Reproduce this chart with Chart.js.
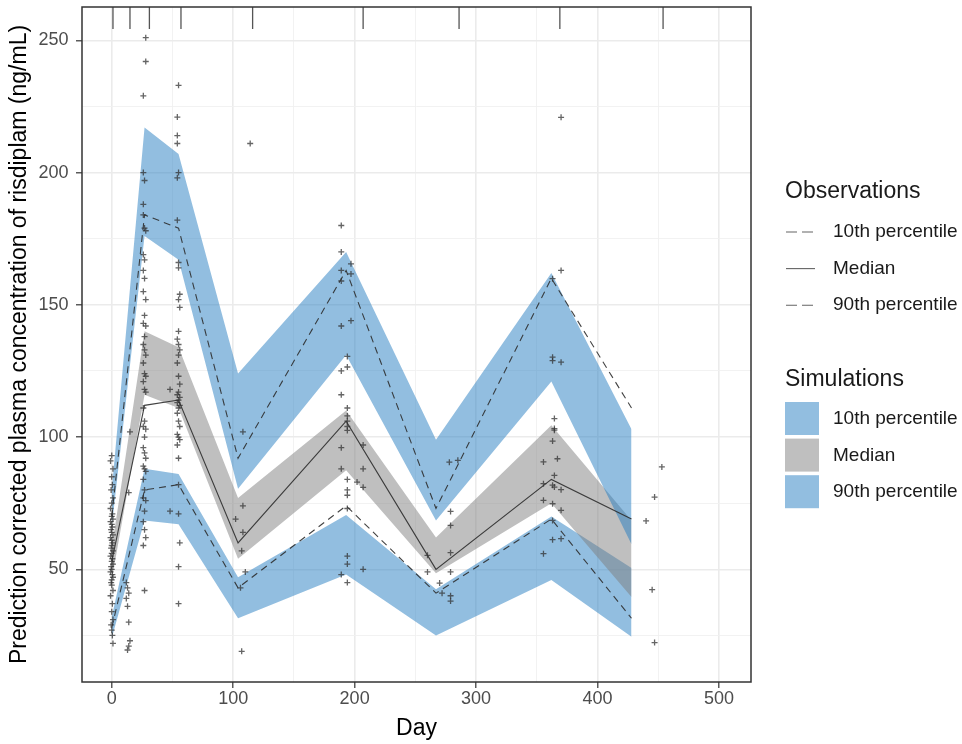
<!DOCTYPE html>
<html>
<head>
<meta charset="utf-8">
<title>Prediction corrected VPC - risdiplam</title>
<style>
    body {
        margin: 0;
        background-color: #ffffff;
    }

    #wrap {
        position: relative;
        width: 962px;
        height: 744px;
    }
</style>
</head>
<body>
<div id="wrap">
    <canvas id="vpc" width="962" height="744"></canvas>
</div>
<script src="https://cdn.jsdelivr.net/npm/chart.js"></script>
<script>
    // simulated prediction intervals (bands), by nominal day
    const simDays = [0, 27, 55, 104, 193, 267, 362, 428];
    const sim10Lo = [24, 68.5, 67, 31.5, 48, 25, 46, 24.5];
    const sim10Hi = [32, 88, 86, 47, 70.5, 42.5, 70, 50.5];
    const simMedLo = [46, 116, 111, 54, 87.5, 48.5, 75, 39.5];
    const simMedHi = [58, 140, 134, 77, 110, 62, 104.5, 68.5];
    const sim90Lo = [66, 176, 167, 80.5, 131, 68.5, 121, 59.5];
    const sim90Hi = [80, 217, 207, 124, 170, 99, 162, 103];

    // observed percentiles
    const obsLineDays = [0, 27, 55, 104, 193, 267, 362, 428];
    const obs10 = [28, 80, 82, 43, 74, 41, 69, 31.5];
    const obsMed = [53, 112, 114, 60, 106, 50, 84, 69];
    const obs90 = [70, 184, 179, 92, 163, 73, 160, 111];

    // rug marks on top of the panel
    const rugDays = [1, 15, 31, 57, 116, 207, 286, 369, 454];

    // grid / tick positions
    const xGridVals = [0, 50, 100, 150, 200, 250, 300, 350, 400, 450, 500];
    const yGridVals = [25, 50, 75, 100, 125, 150, 175, 200, 225, 250];

    // observed concentrations (day, conc), grouped by visit
    const dayV1 = [0, -1, 1, 0, 0.5, -0.5, 1, 0, -1, 0.5, 0, 1, -1, 0, 0.5, -0.5, 0, 1, -1, 0, 0.5, 0, -0.5, 1, 0, -1, 0.5, 0, 1, -0.5, 0, -1, 0.5, 1, 0, -0.5, 0, 1, -1, 0.5, 0, 1, -0.5, 0, 0.5, 1];
    const concV1 = [93, 91, 88, 85, 82, 80, 77, 75, 73, 71, 70, 69, 68, 67, 66, 65, 64, 63, 62, 61, 60, 59, 58, 57, 56, 55, 54, 53, 52, 51, 50, 49, 48, 47, 46, 45, 44, 42, 40, 37, 34, 31, 29, 27, 25, 22];
    const dayV2 = [15, 14, 12, 13, 14, 12, 13, 14, 15, 14, 13];
    const concV2 = [102, 79, 45, 43, 41, 39, 36, 30, 23, 21, 19.5];
    const dayV3 = [28, 28, 26, 26, 27, 26, 26, 27, 28, 26, 27, 26, 27, 26, 28, 27, 26, 28, 27, 26, 27, 28, 26, 27, 28, 26, 27, 28, 26, 27, 26, 28, 27, 26, 27, 28, 26, 27, 28, 26, 27, 26, 28, 27, 26, 27, 28, 26, 27];
    const concV3 = [251, 242, 229, 200, 197, 188, 184, 179, 178, 169, 167, 163, 160, 155, 152, 146, 143, 142, 138, 135, 133, 131, 128, 124, 123, 121, 118, 117, 111, 106, 104, 103, 100, 96, 94, 92, 89, 88, 87, 84, 80, 77, 76, 72, 68, 65, 62, 59, 42];
    const dayV4 = [55, 54, 54, 54, 55, 54, 54, 55, 55, 56, 55, 56, 55, 54, 55, 56, 55, 54, 55, 56, 48, 55, 54, 56, 55, 54, 56, 55, 54, 55, 56, 54, 55, 56, 54, 55, 55, 48, 55, 56, 55, 55];
    const concV4 = [233, 221, 214, 211, 200, 198, 182, 166, 164, 154, 152, 149, 140, 137, 135, 133, 131, 128, 123, 120, 118, 117, 116, 115, 114, 113, 112, 111, 109, 106, 104, 101, 100, 99, 97, 92, 82, 72, 71, 60, 51, 37];
    const dayV5 = [114, 108, 108, 102, 108, 107, 110, 106, 107];
    const concV5 = [211, 102, 74, 69, 64, 57, 49, 43, 19];
    const dayV6 = [189, 189, 189, 189, 189, 189, 189, 189, 189, 189, 197, 197, 197, 194, 194, 194, 194, 194, 194, 194, 194, 194, 194, 194, 194, 194, 194, 207, 207, 207, 207, 202];
    const concV6 = [180, 170, 163, 159, 142, 125, 116, 96, 88, 48, 165.5, 161.7, 144, 130.5, 126.5, 111, 108, 106, 104, 102.5, 84, 80, 78, 73, 55, 52, 45, 97, 88, 81, 50, 83];
    const dayV7 = [278, 279, 279, 279, 279, 279, 279, 285, 260, 260, 270, 272];
    const concV7 = [90.5, 71.9, 66.6, 56.3, 49, 40, 38, 91.2, 55.3, 49, 44.8, 41];
    const dayV8 = [370, 370, 370, 370, 370, 370, 363, 363, 363, 363, 363, 363, 363, 363, 364.5, 364.5, 364.5, 364.5, 364.5, 355.5, 355.5, 355.5, 355.5, 367];
    const concV8 = [220.9, 163, 128.3, 80.1, 61.6, 72.3, 159.9, 130.2, 128.9, 98.5, 81.8, 74.8, 68.5, 61.2, 107, 103.2, 102.6, 85.5, 81.1, 90.6, 82.4, 76.1, 55.9, 91.8];
    const dayV9 = [453, 447, 440, 445, 447];
    const concV9 = [88.7, 77.3, 68.3, 42.3, 22.3];

    const legendLabels = ['10th percentile', 'Median', '90th percentile'];

    const FONT = "'Liberation Sans', Arial, sans-serif";
    const BLUE = 'rgba(37,125,193,0.5)';
    const GREY = 'rgba(127,127,127,0.5)';
    const LINE = 'rgba(45,45,45,0.9)';

    function xy(days, vals) {
        return days.map((d, i) => ({ x: d, y: vals[i] }));
    }

    const points = [].concat(
        xy(dayV1, concV1), xy(dayV2, concV2), xy(dayV3, concV3),
        xy(dayV4, concV4), xy(dayV5, concV5), xy(dayV6, concV6),
        xy(dayV7, concV7), xy(dayV8, concV8), xy(dayV9, concV9)
    );

    const rugData = [];
    rugDays.forEach(d => {
        rugData.push({ x: d, y: 262.6 }, { x: d, y: 254.3 }, { x: d, y: null });
    });

    function bandLo(data, order) {
        return { data: data, borderColor: 'transparent', borderWidth: 0, pointRadius: 0, fill: false, order: order };
    }

    function bandHi(data, color, order) {
        return { data: data, borderColor: 'transparent', borderWidth: 0, pointRadius: 0, fill: '-1', backgroundColor: color, order: order };
    }

    function obsLine(data, dash) {
        return { data: data, borderColor: LINE, borderWidth: 1.1, borderDash: dash, pointRadius: 0, fill: false, order: 1 };
    }

    // panel border and right-hand legend
    const frame = {
        id: 'frame',
        afterDraw(chart) {
            const c = chart.ctx;
            const a = chart.chartArea;
            c.save();
            c.strokeStyle = '#333333';
            c.lineWidth = 1.5;
            c.strokeRect(a.left, a.top, a.right - a.left, a.bottom - a.top);

            c.textBaseline = 'middle';
            c.textAlign = 'left';
            c.fillStyle = '#1a1a1a';
            c.font = '23px ' + FONT;
            c.fillText('Observations', 785, 192);

            const dashes = [[11, 5], [], [11, 5]];
            legendLabels.forEach((lab, i) => {
                const y = 232 + i * 36.6;
                c.strokeStyle = 'rgba(60,60,60,0.8)';
                c.lineWidth = 1.1;
                c.setLineDash(dashes[i]);
                c.beginPath();
                c.moveTo(786, y);
                c.lineTo(815, y);
                c.stroke();
                c.setLineDash([]);
                c.font = '19px ' + FONT;
                c.fillText(lab, 833, y);
            });

            c.font = '23px ' + FONT;
            c.fillText('Simulations', 785, 380);
            const fills = [BLUE, GREY, BLUE];
            legendLabels.forEach((lab, i) => {
                const top = 402 + i * 36.6;
                c.fillStyle = fills[i];
                c.fillRect(785, top, 34, 33);
                c.fillStyle = '#1a1a1a';
                c.font = '19px ' + FONT;
                c.fillText(lab, 833, top + 17);
            });
            c.restore();
        }
    };

    function gridColor(step) {
        return ctx => (ctx.tick && ctx.tick.value % step === 0) ? '#ebebeb' : '#f1f1f1';
    }

    function gridWidth(step) {
        return ctx => (ctx.tick && ctx.tick.value % step === 0) ? 1.6 : 0.9;
    }

    function tickColor(step) {
        return ctx => (ctx.tick && ctx.tick.value % step === 0) ? '#333333' : 'rgba(0,0,0,0)';
    }

    new Chart(document.getElementById('vpc').getContext('2d'), {
        type: 'line',
        data: {
            datasets: [
                {
                    type: 'scatter', data: points, showLine: false, pointStyle: 'cross',
                    pointRadius: 3, borderColor: 'rgba(50,50,50,0.75)', borderWidth: 1.3, order: 0
                },
                obsLine(xy(obsLineDays, obs10), [7, 5]),
                obsLine(xy(obsLineDays, obsMed), []),
                obsLine(xy(obsLineDays, obs90), [7, 5]),
                { data: rugData, borderColor: '#555555', borderWidth: 1.3, pointRadius: 0, spanGaps: false, fill: false, order: 1 },
                bandLo(xy(simDays, sim90Lo), 3),
                bandHi(xy(simDays, sim90Hi), BLUE, 3),
                bandLo(xy(simDays, simMedLo), 4),
                bandHi(xy(simDays, simMedHi), GREY, 4),
                bandLo(xy(simDays, sim10Lo), 5),
                bandHi(xy(simDays, sim10Hi), BLUE, 5)
            ]
        },
        options: {
            responsive: false,
            animation: false,
            layout: { padding: { top: 7, right: 211, left: 0, bottom: 0 } },
            plugins: {
                legend: { display: false },
                tooltip: { enabled: false }
            },
            scales: {
                x: {
                    type: 'linear',
                    min: -24.5,
                    max: 526.4,
                    afterBuildTicks(s) { s.ticks = xGridVals.map(v => ({ value: v })); },
                    afterFit(s) { s.height = 62; s.paddingLeft = 0; s.paddingRight = 0; },
                    border: { display: false },
                    grid: { color: gridColor(100), lineWidth: gridWidth(100), tickLength: 6, tickColor: tickColor(100), tickWidth: 1.2 },
                    ticks: {
                        autoSkip: false, maxRotation: 0, padding: 0,
                        color: '#4d4d4d', font: { size: 18, family: FONT },
                        callback: v => (v % 100 === 0 ? String(v) : '')
                    },
                    title: { display: true, text: 'Day', color: '#000000', font: { size: 23, family: FONT }, padding: { top: 0, bottom: 2 } }
                },
                y: {
                    type: 'linear',
                    min: 7.4,
                    max: 262.6,
                    afterBuildTicks(s) { s.ticks = yGridVals.map(v => ({ value: v })); },
                    afterFit(s) { s.width = 82; s.paddingTop = 0; s.paddingBottom = 0; },
                    border: { display: false },
                    grid: { color: gridColor(50), lineWidth: gridWidth(50), tickLength: 6, tickColor: tickColor(50), tickWidth: 1.2 },
                    ticks: {
                        autoSkip: false, padding: 7.5,
                        color: '#4d4d4d', font: { size: 18, family: FONT },
                        callback: v => (v % 50 === 0 ? String(v) : '')
                    },
                    title: {
                        display: true, text: 'Prediction corrected plasma concentration of risdiplam (ng/mL)',
                        color: '#000000', font: { size: 23, family: FONT }, padding: { top: 6, bottom: 0 }
                    }
                }
            }
        },
        plugins: [frame]
    });
</script>
</body>
</html>
